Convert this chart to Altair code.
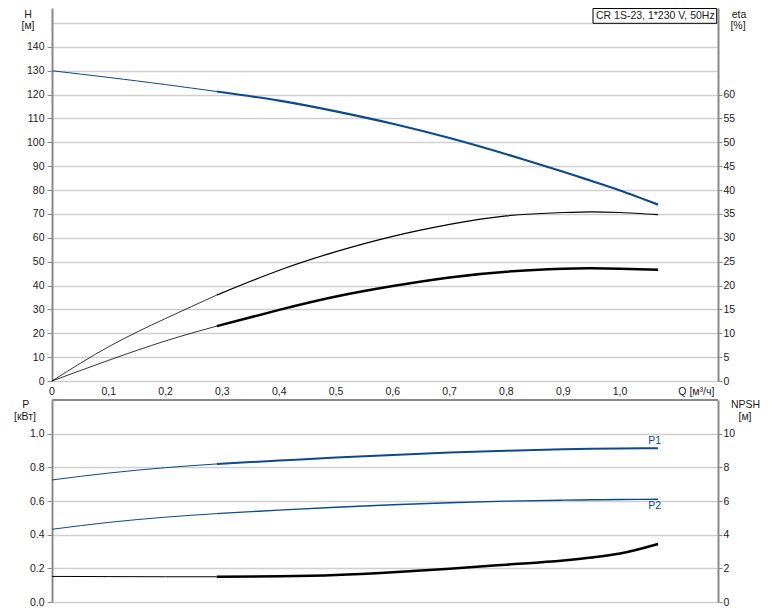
import altair as alt
import pandas as pd

# ---------------- data ----------------
Q_THIN = [0.0, 0.1, 0.2, 0.29]
Q_THICK = [0.29, 0.4, 0.5, 0.6, 0.7, 0.8, 0.9, 0.95, 1.0, 1.067]

H_THIN = [130.0, 127.2, 124.2, 121.3]
H_THICK = [121.3, 117.5, 113.0, 107.8, 101.8, 95.0, 87.7, 83.8, 79.8, 73.9]

ETA_PUMP_THIN = [0.0, 7.2, 13.1, 18.0]
ETA_PUMP_THICK = [18.0, 23.2, 27.1, 30.3, 32.8, 34.6, 35.3, 35.45, 35.3, 34.85]

ETA_TOTAL_THIN = [0.0, 4.35, 8.4, 11.5]
ETA_TOTAL_THICK = [11.5, 14.9, 17.7, 19.9, 21.7, 22.9, 23.5, 23.6, 23.5, 23.3]

P1_THIN = [0.725, 0.766, 0.798, 0.820]
P1_THICK = [0.820, 0.840, 0.858, 0.874, 0.888, 0.899, 0.907, 0.910, 0.912, 0.913]

P2_THIN = [0.432, 0.473, 0.504, 0.525]
P2_THICK = [0.525, 0.546, 0.563, 0.578, 0.590, 0.599, 0.605, 0.607, 0.609, 0.610]

NPSH_THIN = [1.52, 1.51, 1.50, 1.50]
NPSH_THICK = [1.50, 1.53, 1.61, 1.77, 1.98, 2.22, 2.47, 2.64, 2.88, 3.45]

X_TICKS = [0.0, 0.1, 0.2, 0.3, 0.4, 0.5, 0.6, 0.7, 0.8, 0.9, 1.0, 1.1]
X_LABELS = ["0", "0,1", "0,2", "0,3", "0,4", "0,5", "0,6", "0,7", "0,8", "0,9", "1,0"]
Q_TITLE = "Q [м³/ч]"
H_TICKS = [0, 10, 20, 30, 40, 50, 60, 70, 80, 90, 100, 110, 120, 130, 140, 150]
ETA_TICKS = [0, 5, 10, 15, 20, 25, 30, 35, 40, 45, 50, 55, 60]
P_TICKS = [0.0, 0.2, 0.4, 0.6, 0.8, 1.0]
NPSH_TICKS = [0, 2, 4, 6, 8, 10]

MODEL = "CR 1S-23, 1*230 V, 50Hz"

# ---------------- style ----------------
FONT = "Liberation Sans"
FS = 10.5
TXT = "#1a1a1a"
BLUE = "#0b4a8b"
BLACK = "#000000"
GRID = "#d0d0d0"
AXC = "#8a8a8a"

W = 666
H_TOP = 373
H_BOT = 202
X_DOM = [0, 1.1725]


def rows(name, thin, thick, col, w_thin, w_thick):
    out = []
    for q, v in zip(Q_THIN, thin):
        out.append(dict(key=name + "_a", Q=q, v=v, col=col, w=w_thin))
    for q, v in zip(Q_THICK, thick):
        out.append(dict(key=name + "_b", Q=q, v=v, col=col, w=w_thick))
    return out


df_h = pd.DataFrame(rows("H", H_THIN, H_THICK, BLUE, 1.0, 2.2))
df_eta = pd.DataFrame(
    rows("eta1", ETA_PUMP_THIN, ETA_PUMP_THICK, BLACK, 0.8, 1.2)
    + rows("eta2", ETA_TOTAL_THIN, ETA_TOTAL_THICK, BLACK, 0.8, 2.5)
)
df_p = pd.DataFrame(
    rows("P1", P1_THIN, P1_THICK, BLUE, 1.0, 2.0)
    + rows("P2", P2_THIN, P2_THICK, BLUE, 1.0, 1.4)
)
df_npsh = pd.DataFrame(rows("NPSH", NPSH_THIN, NPSH_THICK, BLACK, 1.0, 2.5))

xs = alt.Scale(domain=X_DOM, nice=False, zero=False)

x_grid_axis = alt.Axis(
    values=X_TICKS, grid=True, gridColor=GRID, gridWidth=1.6,
    domainColor=AXC, domainWidth=2, ticks=False, labels=False, title=None,
)


def line_layer(df, ydom, axis, interp):
    return alt.Chart(df).mark_line(interpolate=interp).encode(
        x=alt.X("Q:Q", scale=xs, axis=None),
        y=alt.Y("v:Q", scale=alt.Scale(domain=ydom, nice=False, zero=False), axis=axis),
        detail="key:N",
        color=alt.Color("col:N", scale=None),
        strokeWidth=alt.StrokeWidth("w:Q", scale=None),
    )


def txt(text, x, y, align="center", size=FS, color=TXT):
    return alt.Chart(pd.DataFrame({"t": [text]})).mark_text(
        font=FONT, fontSize=size, color=color, align=align, baseline="middle"
    ).encode(text="t:N", x=alt.value(x), y=alt.value(y))


# ---------------- top panel ----------------
h_axis = alt.Axis(
    values=H_TICKS, grid=True, gridColor=GRID, gridWidth=1.6,
    domainColor=AXC, domainWidth=2, tickColor=AXC, tickSize=5, tickWidth=1,
    tickOpacity={"condition": {"test": "datum.value > 145", "value": 0}, "value": 1},
    labelPadding=3, labelFont=FONT, labelFontSize=FS, labelColor=TXT,
    labelExpr="datum.value > 145 ? '' : datum.label", title=None,
)
eta_axis = alt.Axis(
    orient="right", values=ETA_TICKS, grid=False,
    domainColor=AXC, domainWidth=2, tickColor=AXC, tickSize=4, tickWidth=1,
    labelPadding=1, labelFont=FONT, labelFontSize=FS, labelColor=TXT, title=None,
)

xgrid_top = alt.Chart(df_h).mark_point(opacity=0).encode(
    x=alt.X("Q:Q", scale=xs, axis=x_grid_axis)
)
h_layer = line_layer(df_h, [0, 156.3], h_axis, "natural")
eta_layer = line_layer(df_eta, [0, 78.15], eta_axis, "natural")

x_labels = alt.Chart(
    pd.DataFrame({"q": X_TICKS[: len(X_LABELS)], "t": X_LABELS})
).mark_text(font=FONT, fontSize=FS, color=TXT, align="center", baseline="middle").encode(
    text="t:N", x=alt.X("q:Q", scale=xs, axis=None), y=alt.value(H_TOP + 10.5)
)
q_label = alt.Chart(pd.DataFrame({"q": [X_TICKS[-1]], "t": [Q_TITLE]})).mark_text(
    font=FONT, fontSize=FS, color=TXT, align="left", baseline="middle", dx=1.5
).encode(text="t:N", x=alt.X("q:Q", scale=xs, axis=None), y=alt.value(H_TOP + 10.5))

box = alt.Chart(pd.DataFrame({"a": [0]})).mark_rect(
    fill="white", stroke="#000000", strokeWidth=1
).encode(x=alt.value(541), x2=alt.value(664.7), y=alt.value(0.5), y2=alt.value(15.3))
box_text = txt(MODEL, 544, 8, align="left")

extent = alt.Chart(pd.DataFrame({"a": [0]})).mark_rule(opacity=0).encode(
    x=alt.value(-44), x2=alt.value(-43), y=alt.value(100), y2=alt.value(101)
)

top = alt.layer(
    xgrid_top, h_layer, eta_layer, x_labels, q_label, box, box_text, extent,
    txt("H", -24, 6.5), txt("[м]", -24, 18.3),
    txt("eta", 687, 6.5), txt("[%]", 686, 18),
).resolve_scale(y="independent").properties(width=W, height=H_TOP)

# ---------------- bottom panel ----------------
p_axis = alt.Axis(
    values=P_TICKS, grid=True, gridColor=GRID, gridWidth=1.6, format=".1f",
    domainColor=AXC, domainWidth=2, tickColor=AXC, tickSize=5, tickWidth=1,
    labelPadding=3, labelFont=FONT, labelFontSize=FS, labelColor=TXT, title=None,
)
npsh_axis = alt.Axis(
    orient="right", values=NPSH_TICKS, grid=False, format="d",
    domainColor=AXC, domainWidth=2, tickColor=AXC, tickSize=4, tickWidth=1,
    labelPadding=1, labelFont=FONT, labelFontSize=FS, labelColor=TXT, title=None,
)

xgrid_bot = alt.Chart(df_p).mark_point(opacity=0).encode(
    x=alt.X("Q:Q", scale=xs, axis=x_grid_axis)
)
p_layer = line_layer(df_p, [0, 1.2], p_axis, "monotone")
npsh_layer = line_layer(df_npsh, [0, 12], npsh_axis, "monotone")

top_border = alt.Chart(pd.DataFrame({"b": [1.2]})).mark_rule(color=AXC, strokeWidth=2).encode(
    y=alt.Y("b:Q", scale=alt.Scale(domain=[0, 1.2], nice=False), axis=None)
)

end_labels = pd.DataFrame({
    "t": ["P1", "P2"],
    "Q": [Q_THICK[-1], Q_THICK[-1]],
    "v": [P1_THICK[-1], P2_THICK[-1]],
})
p1_lab = alt.Chart(end_labels.iloc[[0]]).mark_text(
    font=FONT, fontSize=FS, color=BLUE, align="right", baseline="middle", dx=3, dy=-7
).encode(text="t:N", x=alt.X("Q:Q", scale=xs, axis=None),
         y=alt.Y("v:Q", scale=alt.Scale(domain=[0, 1.2], nice=False), axis=None))
p2_lab = alt.Chart(end_labels.iloc[[1]]).mark_text(
    font=FONT, fontSize=FS, color=BLUE, align="right", baseline="middle", dx=3, dy=7
).encode(text="t:N", x=alt.X("Q:Q", scale=xs, axis=None),
         y=alt.Y("v:Q", scale=alt.Scale(domain=[0, 1.2], nice=False), axis=None))

bottom = alt.layer(
    xgrid_bot, p_layer, npsh_layer, top_border, p1_lab, p2_lab,
    txt("P", -26.3, 5), txt("[кВт]", -27, 16.7),
    txt("NPSH", 693.5, 5), txt("[м]", 693, 16.7),
).resolve_scale(y="independent").properties(width=W, height=H_BOT)

chart = alt.vconcat(top, bottom, spacing=19, bounds="flush").properties(
    padding={"left": 0, "top": 0, "right": 0, "bottom": 0}
).configure_view(stroke=None)

chart.save("out.html", embed_options={"renderer": "svg", "actions": False})
